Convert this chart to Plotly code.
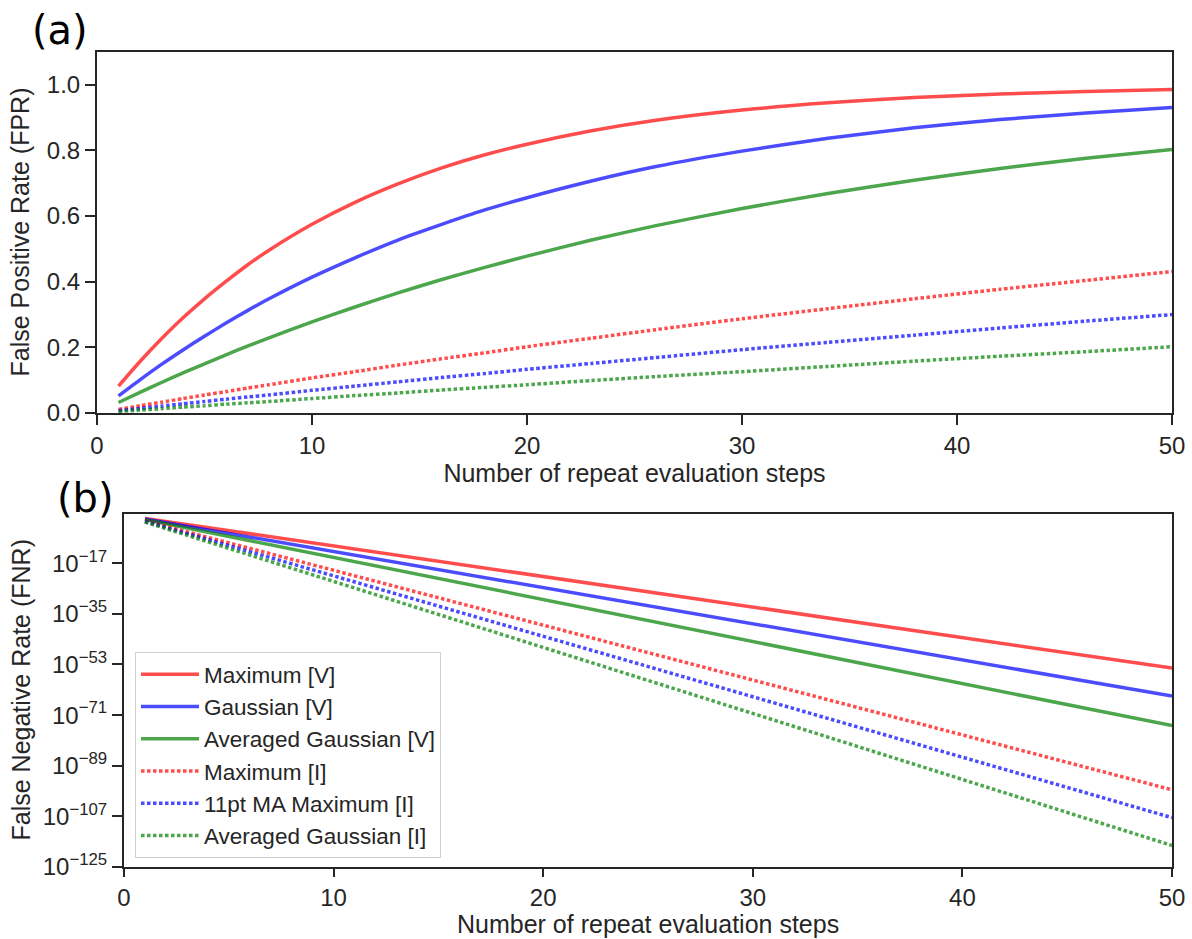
import plotly.graph_objects as go

# ---------------- data ----------------
steps_fpr = [1, 2, 3, 4, 5, 6, 7, 8, 10, 12, 14, 16, 18, 20, 23, 26, 30, 34, 38, 42, 46, 50]

fpr_max_v = [0.082, 0.157, 0.226, 0.290, 0.348, 0.401, 0.451, 0.496, 0.575, 0.642, 0.698,
             0.746, 0.786, 0.819, 0.860, 0.892, 0.923, 0.945, 0.961, 0.972, 0.980, 0.986]
fpr_gauss_v = [0.052, 0.101, 0.148, 0.192, 0.234, 0.274, 0.312, 0.348, 0.414, 0.473, 0.527,
               0.574, 0.618, 0.656, 0.707, 0.751, 0.798, 0.837, 0.869, 0.894, 0.914, 0.931]
fpr_avg_v = [0.032, 0.063, 0.093, 0.122, 0.150, 0.177, 0.204, 0.229, 0.278, 0.323, 0.366,
             0.406, 0.443, 0.478, 0.527, 0.571, 0.623, 0.669, 0.709, 0.745, 0.776, 0.803]
fpr_max_i = [0.011, 0.022, 0.033, 0.044, 0.055, 0.065, 0.076, 0.086, 0.107, 0.126, 0.146,
             0.165, 0.183, 0.202, 0.228, 0.254, 0.287, 0.318, 0.348, 0.377, 0.404, 0.431]
fpr_ma_i = [0.007, 0.014, 0.021, 0.028, 0.035, 0.042, 0.049, 0.055, 0.069, 0.082, 0.095,
            0.108, 0.120, 0.133, 0.151, 0.169, 0.193, 0.215, 0.237, 0.259, 0.280, 0.300]
fpr_avg_i = [0.0045, 0.009, 0.013, 0.018, 0.022, 0.027, 0.031, 0.035, 0.044, 0.053, 0.061,
             0.070, 0.078, 0.086, 0.099, 0.111, 0.126, 0.142, 0.158, 0.173, 0.187, 0.202]

steps_fnr = [1, 10, 20, 30, 40, 50]
fnr_max_v = [8.2e-2, 1.4e-11, 1.9e-22, 2.6e-33, 3.6e-44, 5.0e-55]
fnr_gauss_v = [5.2e-2, 1.4e-13, 2.1e-26, 3.0e-39, 4.4e-52, 6.3e-65]
fnr_avg_v = [3.2e-2, 1.1e-15, 1.3e-30, 1.4e-45, 1.6e-60, 1.8e-75]
fnr_max_i = [1.12e-2, 3.1e-20, 9.5e-40, 3.0e-59, 9.1e-79, 2.8e-98]
fnr_ma_i = [7.1e-3, 3.2e-22, 1.05e-43, 3.4e-65, 1.1e-86, 3.5e-108]
fnr_avg_i = [4.5e-3, 3.4e-24, 1.1e-47, 3.9e-71, 1.3e-94, 4.5e-118]

series_names = ["Maximum [V]", "Gaussian [V]", "Averaged Gaussian [V]",
                "Maximum [I]", "11pt MA Maximum [I]", "Averaged Gaussian [I]"]

x_ticks = [0, 10, 20, 30, 40, 50]
fpr_ticks = [0.0, 0.2, 0.4, 0.6, 0.8, 1.0]
fnr_tick_exps = [-125, -107, -89, -71, -53, -35, -17]

# ---------------- styling ----------------
W, H = 1192, 939
RED = "rgba(255,0,0,0.7)"
BLUE = "rgba(0,0,255,0.7)"
GREEN = "rgba(0,128,0,0.7)"
colors = [RED, BLUE, GREEN, RED, BLUE, GREEN]
dashes = ["solid", "solid", "solid", "3.5px,2.5px", "3.5px,2.5px", "3.5px,2.5px"]
LW = 3.5
INK = "#262626"
FONT = "Liberation Sans, Arial, sans-serif"
TICK_SIZE = 24
TITLE_SIZE = 25
LEGEND_SIZE = 22.5

fpr_series = [fpr_max_v, fpr_gauss_v, fpr_avg_v, fpr_max_i, fpr_ma_i, fpr_avg_i]
fnr_series = [fnr_max_v, fnr_gauss_v, fnr_avg_v, fnr_max_i, fnr_ma_i, fnr_avg_i]

fig = go.Figure()

for name, ys, c, d in zip(series_names, fpr_series, colors, dashes):
    fig.add_trace(go.Scatter(x=steps_fpr, y=ys, mode="lines", name=name,
                             line=dict(color=c, width=LW, dash=d, shape="spline", smoothing=0.6),
                             showlegend=False, xaxis="x", yaxis="y"))

for name, ys, c, d in zip(series_names, fnr_series, colors, dashes):
    fig.add_trace(go.Scatter(x=steps_fnr, y=ys, mode="lines", name=name,
                             line=dict(color=c, width=LW, dash=d),
                             showlegend=True, xaxis="x2", yaxis="y2"))


def px_x(p):
    return p / W


def px_y(p):
    return 1 - p / H


axis_common = dict(showline=True, linecolor=INK, linewidth=2, mirror=True,
                   ticks="outside", tickwidth=2, tickcolor=INK,
                   showgrid=False, zeroline=False, automargin=False,
                   tickfont=dict(family=FONT, size=TICK_SIZE, color=INK),
                   title_font=dict(family=FONT, size=TITLE_SIZE, color=INK))


def title_note(text, cx, cy, angle=0):
    return dict(text=text, x=px_x(cx), y=px_y(cy), xref="paper", yref="paper",
                textangle=angle, showarrow=False, xanchor="center", yanchor="middle",
                borderpad=0, font=dict(family=FONT, size=TITLE_SIZE, color=INK))


def panel_label(text, cx, cy):
    return dict(text=text, x=px_x(cx), y=px_y(cy), xref="paper", yref="paper",
                showarrow=False, font=dict(family="DejaVu Sans", size=40, color="black"),
                xanchor="center", yanchor="middle")


fig.update_layout(
    template="none",
    width=W, height=H, autosize=False,
    margin=dict(l=0, r=0, t=0, b=0, pad=0),
    paper_bgcolor="white", plot_bgcolor="white",
    font=dict(family=FONT, color=INK),
    xaxis=dict(domain=[px_x(97), px_x(1172)], anchor="y", range=[0, 50], ticklen=10,
               tickvals=x_ticks, title=dict(text="Number of repeat evaluation steps", standoff=4),
               **axis_common),
    yaxis=dict(domain=[px_y(413), px_y(52)], anchor="x", range=[0, 1.1], ticklen=10,
               tickvals=fpr_ticks, tickformat=".1f", **axis_common),
    xaxis2=dict(domain=[px_x(124), px_x(1172)], anchor="y2", range=[0, 50], ticklen=8,
                tickvals=x_ticks, **axis_common),
    yaxis2=dict(domain=[px_y(867), px_y(514)], anchor="x2", type="log", range=[-125, 0.5],
                ticklen=10,
                tickvals=[10.0 ** e for e in fnr_tick_exps],
                ticktext=["10<sup>\u2212%d</sup>" % (-e) for e in fnr_tick_exps],
                **axis_common),
    legend=dict(x=px_x(135), y=px_y(652), xanchor="left", yanchor="top",
                bgcolor="white", bordercolor="#d0d0d0", borderwidth=1,
                font=dict(family=FONT, size=LEGEND_SIZE, color=INK),
                itemwidth=58, tracegroupgap=0),
    annotations=[
        title_note("False Positive Rate (FPR)", 20, 232.5, -90),
        title_note("False Negative Rate (FNR)", 20, 690.5, -90),
        title_note("Number of repeat evaluation steps", 648, 924),
        panel_label("(a)", 60, 30),
        panel_label("(b)", 85, 498),
    ],
)

fig.write_html("out.html",
               post_script="document.body.style.margin='0';document.body.style.overflow='hidden';")
